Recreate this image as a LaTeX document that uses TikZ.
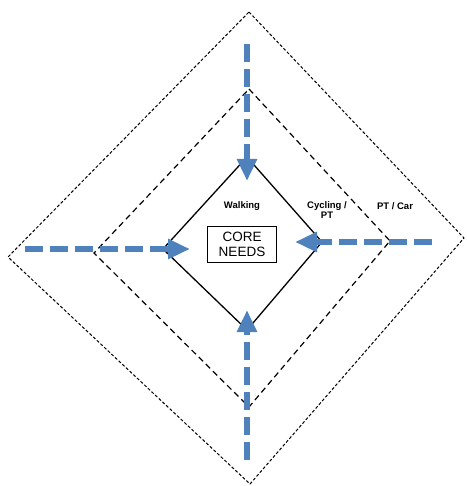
\documentclass[tikz,border=0pt]{standalone}
\usepackage{fontspec}
\setmainfont{Liberation Sans}
\usetikzlibrary{arrows.meta}
\definecolor{needblue}{RGB}{79,129,189}

\begin{document}
\begin{tikzpicture}[
  x=1pt, y=-1pt,
  every node/.style={font=\bfseries\fontsize{9.5}{10}\selectfont},
  mode/.style={align=center, inner sep=0pt},
  core/.style={draw, line width=0.8pt, align=center,
               minimum width=69pt, minimum height=36pt, inner sep=1pt,
               font=\fontsize{13.5}{15}\selectfont},
  outerline/.style={line width=1pt, dash pattern=on 3pt off 2pt},
  midline/.style={line width=1.2pt, dash pattern=on 6pt off 4pt},
  innerline/.style={line width=1.3pt},
  flow/.style={needblue, line width=5.5pt, dash pattern=on 18pt off 7pt,
               -{Triangle[length=22pt, width=19pt]}},
]
\useasboundingbox (0,0) rectangle (466,486);

%% ── Diamond corners ────────────────────────────────────────────────────
\coordinate (ot) at (249, 12);
\coordinate (or) at (464,238);
\coordinate (ob) at (250,484);
\coordinate (ol) at (8,  257);
\coordinate (mt) at (249, 89);
\coordinate (mr) at (390,241);
\coordinate (mb) at (249,407);
\coordinate (ml) at (94, 253);
\coordinate (it) at (247,157);
\coordinate (ir) at (322,242);
\coordinate (ib) at (247,330);
\coordinate (il) at (163,249);

%% ── Diamonds ───────────────────────────────────────────────────────────
\draw[outerline] (ot) -- (or) -- (ob) -- (ol) -- cycle;
\draw[midline]   (mt) -- (mr) -- (mb) -- (ml) -- cycle;
\draw[innerline] (it) -- (ir) -- (ib) -- (il) -- cycle;

%% ── Core box and labels ────────────────────────────────────────────────
\node[core] (core) at (242,244) {CORE\\NEEDS};
\node[mode] (walk)  at (242,206) {Walking};
\node[mode] (cycle) at (327,210) {Cycling /\\PT};
\node[mode] (car)   at (395,206) {PT / Car};

%% ── Flows towards the core ─────────────────────────────────────────────
\coordinate (ft) at (247, 44);
\coordinate (fb) at (247,460);
\coordinate (fl) at (25, 249);
\coordinate (fr) at (432,242);
\coordinate (tt) at (247,181);
\coordinate (tb) at (247,310);
\coordinate (tl) at (190,249);
\coordinate (tr) at (295,242);
\draw[flow] (ft) -- (tt);
\draw[flow] (fb) -- (tb);
\draw[flow] (fl) -- (tl);
\draw[flow] (fr) -- (tr);

\end{tikzpicture}
\end{document}
